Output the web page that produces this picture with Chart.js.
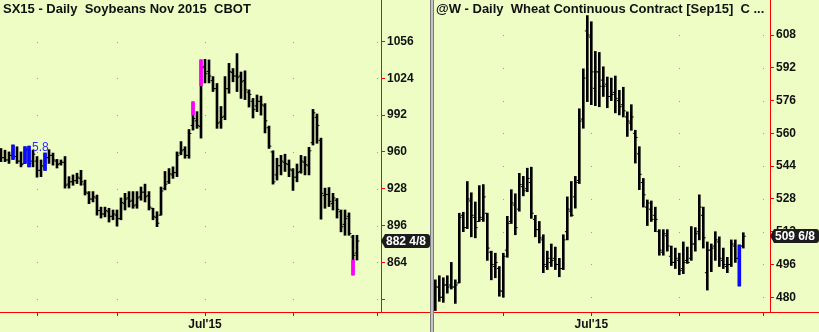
<!DOCTYPE html>
<html>
<head>
<meta charset="utf-8">
<title>Soybeans Nov 2015 / Wheat Sep15 - Daily</title>
<script src="https://cdn.jsdelivr.net/npm/chart.js@4.4.1/dist/chart.umd.min.js"></script>
<style>
  body { margin: 0; background: #eefdc4; font-family: "Liberation Sans", Arial, sans-serif; }
  #wrap { position: relative; width: 819px; height: 332px; overflow: hidden; background: #eefdc4; }
  .panel { position: absolute; top: 0; height: 332px; }
  #soyPanel { left: 0; width: 430px; }
  #wheatPanel { left: 434px; width: 385px; }
  .divider { position: absolute; left: 430px; top: 0; width: 2px; height: 332px; background: #c4c4c4; border-left: 1px solid #7a7a7a; border-right: 1px solid #7a7a7a; }
  .title { position: absolute; top: 1px; font-size: 13px; font-weight: bold; color: #111; white-space: pre; line-height: 16px; }
  .note { position: absolute; left: 32px; top: 141px; font-size: 12px; line-height: 13px; color: #2b2bff; }
</style>
</head>
<body>
<div id="wrap">
  <div class="panel" id="soyPanel"><canvas id="soyChart" width="430" height="332"></canvas></div>
  <div class="divider"></div>
  <div class="panel" id="wheatPanel"><canvas id="wheatChart" width="385" height="332"></canvas></div>
  <div class="title" style="left:3px">SX15 - Daily  Soybeans Nov 2015  CBOT</div>
  <div class="title" style="left:436px">@W - Daily  Wheat Continuous Contract [Sep15]  C ...</div>
  <div class="note">5.8</div>
</div>

<script>
// ---- Soybeans Nov 2015 (daily, 20 Apr - 25 Aug 2015) ----
const soyOpen = [958, 955, 953, 957, 956, 952, 950, 962, 952, 952,
  944, 947, 955, 957, 952, 950, 951, 932, 934, 935,
  937, 932, 924, 919, 920, 909, 906, 908, 904, 905,
  902, 915, 920, 918, 914, 921, 925, 922, 911, 903,
  905, 928, 934, 940, 942, 959, 962, 957, 983, 987,
  982, 1034, 1030, 1022, 1015, 986, 991, 1015, 1029, 1026,
  1026, 1022, 1012, 1004, 1000, 1004, 1000, 981, 960, 940,
  948, 951, 949, 944, 938, 943, 951, 948, 968, 990,
  970, 922, 923, 915, 918, 908, 897, 904, 886, 872];
const soyHigh = [963, 961.5, 960, 966, 964.5, 960, 964.5, 965, 961.5, 956,
  953, 959, 962, 959, 953.5, 953, 956, 938.5, 940, 941.5,
  944, 935.5, 925.5, 925.5, 922.5, 912, 912, 911, 909.5, 909.5,
  920, 924, 925.5, 925.5, 925.5, 929.5, 932, 925.5, 911, 908,
  929.5, 943, 945.5, 947, 960, 969, 964.5, 979.5, 1003.5, 995,
  1040, 1040.5, 1040, 1025.5, 1019.5, 999.5, 1025.5, 1037, 1032.5, 1045.5,
  1029.5, 1030.5, 1014, 1006.5, 1009.5, 1008.5, 1002, 982.5, 961, 954.5,
  957, 958, 953, 945.5, 949.5, 957, 956, 964, 997, 993,
  972, 928.5, 929, 924, 919.5, 909.5, 909.5, 907, 887.5, 887.5];
const soyLow = [951.5, 951.5, 950, 953.5, 950, 947, 950, 947, 947, 938,
  938.5, 944, 950, 948.5, 946, 948.5, 928.5, 928.5, 931, 932.5,
  931, 922.5, 915, 916.5, 905, 902.5, 903.5, 899, 901, 895.5,
  901, 909.5, 912, 911, 911, 918, 916.5, 909.5, 901, 895,
  905, 927, 932.5, 937, 938.5, 957.5, 954.5, 954.5, 979, 980.5,
  972, 1020, 1020, 1012.5, 980.5, 980.5, 988, 1011, 1021, 1012.5,
  1006.5, 1005.5, 999, 989.5, 995, 992, 976.5, 963, 932, 935.5,
  940, 943, 938.5, 926.5, 934, 941.5, 940, 940, 966, 967.5,
  901.5, 911, 912.5, 909.5, 902.5, 890.5, 887.5, 887.5, 853, 866];
const soyClose = [955, 953, 957, 956, 952, 949, 962, 950, 958, 944,
  948, 955, 957, 953, 949, 951, 931, 934, 935, 938,
  934, 925, 919, 921, 909, 906, 909, 904, 906, 902,
  916, 919, 917, 913, 920, 925, 921, 912, 904, 898,
  926, 932, 941, 942, 957, 961, 957, 976, 989, 983,
  1033, 1028, 1026, 1015, 985, 990, 1015, 1030, 1026, 1025,
  1021, 1014, 1010, 997, 1004, 1001, 987, 965, 934, 948,
  952, 950, 945, 938, 942, 952, 949, 961, 994, 983,
  924, 923, 917, 920, 910, 895, 902, 889, 870, 882.5];
const soyBlueIdx = [3, 6, 7, 11];          // painted full-range bars
const soyPinkIdx = [48, 50, 88];           // painted partial bars
const soyPinkTop = [1003.5, 1040, 866];
const soyPinkBottom = [992, 1017.5, 853];
const soyYTicks = [832, 864, 896, 928, 960, 992, 1024, 1056];
const soyMonthIdx = [9, 29, 51, 73, 94];   // May, Jun, Jul, Aug, Sep
const soyMonthLabels = ["", "", "Jul'15", "", ""];
const soyLastLabel = "882 4/8";

// ---- Wheat continuous [Sep15] (daily, 6 May - 25 Aug 2015) ----
const wheatOpen = [480, 485, 480, 486, 486, 485, 487, 520, 514, 527,
  519, 517, 518, 521, 502, 495, 494, 483, 503, 517,
  525, 523, 534, 533, 536, 518, 513, 508, 495, 497,
  499, 496, 494, 512, 522, 529, 537, 567, 610, 607,
  582, 590, 586, 584, 578, 580, 576, 574, 568, 565,
  560, 550, 536, 524, 523, 520, 512, 502, 510, 500,
  497, 498, 494, 498, 499, 506, 512, 520, 492, 503,
  505, 507, 498, 495, 496, 505, 499, 505];
const wheatHigh = [488.5, 490.5, 489.5, 490.5, 497, 488.5, 521, 521.5, 536.5, 531,
  526.5, 534.5, 535, 521, 502.5, 501.5, 495, 501.5, 519.5, 532.5,
  530.5, 540.5, 539, 543, 543.5, 520, 517, 510.5, 502.5, 506,
  504.5, 499, 510.5, 529, 536.5, 539, 572, 591.5, 617.5, 614.5,
  600, 599.5, 592.5, 587.5, 587, 588, 581, 582.5, 570.5, 574,
  561.5, 553.5, 538, 527.5, 527, 524, 513, 513, 513, 505,
  504, 501.5, 507, 504.5, 514.5, 514, 530, 524, 507, 506,
  512, 509.5, 504, 499.5, 508, 508, 505.5, 511.5];
const wheatLow = [473.5, 478, 477.5, 482, 484, 477, 487, 512, 513.5, 509.5,
  509, 517, 517, 498, 488.5, 489.5, 480.5, 480, 499.5, 516,
  510.5, 522, 529.5, 531.5, 518.5, 509.5, 506.5, 492, 493.5, 495,
  493.5, 490, 493.5, 508, 519.5, 523.5, 535.5, 562.5, 575.5, 574,
  573.5, 573, 578, 572.5, 576, 570, 569, 568, 558.5, 561.5,
  545.5, 532.5, 524, 515, 517, 512, 500.5, 500.5, 502.5, 495.5,
  494, 491, 491.5, 496.5, 498, 502.5, 508, 504, 483.5, 492.5,
  498, 495, 494, 492, 495, 497, 485.5, 504];
const wheatClose = [485, 480, 486, 485, 485, 486, 519, 514, 528, 520,
  514, 519, 529, 504, 496, 497, 483, 500, 516, 526,
  514, 535, 532, 538, 521, 513, 509, 496, 499, 498,
  496, 494, 508, 523, 520, 536, 566, 587, 608, 590,
  590, 583, 583, 578, 579, 577, 573, 571, 566, 568,
  558, 540, 530, 526, 518, 518, 503, 511, 505, 497,
  499, 493, 497, 497, 506, 511, 524, 509, 503, 504,
  508, 499, 496, 496, 506, 499, 505, 509.75];
const wheatBlueIdx = [76];
const wheatPinkIdx = [];
const wheatPinkTop = [];
const wheatPinkBottom = [];
const wheatYTicks = [480, 496, 512, 528, 544, 560, 576, 592, 608];
const wheatMonthIdx = [17, 39, 61, 82];    // Jun, Jul, Aug, Sep
const wheatMonthLabels = ["", "Jul'15", "", ""];
const wheatLastLabel = "509 6/8";

const FONT = "'Liberation Sans', Arial, sans-serif";
const RED = "#ff0000";

// Draws the dotted grid, the full-width bottom line and the last-price flag
const panelDecor = {
  id: "panelDecor",
  beforeDatasetsDraw(chart, args, opts) {
    const { ctx, scales } = chart;
    ctx.save();
    ctx.fillStyle = "#9a9a9a";
    opts.monthIdx.forEach((m) => {
      const px = Math.round(scales.x.getPixelForValue(m));
      opts.yTicks.forEach((t) => {
        const py = Math.round(scales.y.getPixelForValue(t));
        ctx.fillRect(px, py, 1, 1);
      });
    });
    ctx.restore();
  },
  afterDraw(chart, args, opts) {
    const { ctx, chartArea, scales, width } = chart;
    ctx.save();
    // bottom axis line runs under the price scale too
    ctx.strokeStyle = RED;
    ctx.lineWidth = 1;
    ctx.beginPath();
    ctx.moveTo(0, chartArea.bottom + 0.5);
    ctx.lineTo(width, chartArea.bottom + 0.5);
    ctx.stroke();

    // last price flag
    const y = Math.round(scales.y.getPixelForValue(opts.lastValue));
    const tip = chartArea.right;
    const h = 7;
    ctx.fillStyle = "#1c1c1c";
    ctx.beginPath();
    ctx.moveTo(tip, y);
    ctx.lineTo(tip + 4, y - h);
    ctx.lineTo(width - 3, y - h);
    ctx.quadraticCurveTo(width, y - h, width, y - h + 3);
    ctx.lineTo(width, y + h - 3);
    ctx.quadraticCurveTo(width, y + h, width - 3, y + h);
    ctx.lineTo(tip + 4, y + h);
    ctx.closePath();
    ctx.fill();
    ctx.fillStyle = "#ffffff";
    ctx.font = "bold 12px " + FONT;
    ctx.textBaseline = "middle";
    ctx.fillText(opts.lastLabel, tip + 5, y + 1);
    ctx.restore();
  }
};

function makeChart(canvasId, p) {
  const idx = p.high.map((_, i) => i);
  const rangeData = idx.map((i) => ({ x: i, y: [p.low[i], p.high[i]] }));
  const openData = idx.map((i) => ({ x: i - 0.3, y: p.open[i] }));
  const closeData = idx.map((i) => ({ x: i + 0.3, y: p.close[i] }));
  const blueData = p.blueIdx.map((i) => ({ x: i, y: [p.low[i], p.high[i]] }));
  const pinkData = p.pinkIdx.map((i, k) => ({ x: i, y: [p.pinkBottom[k], p.pinkTop[k]] }));

  const tickStyle = { type: "scatter", pointStyle: "line", pointRadius: 1.2, pointBorderWidth: 1,
    borderWidth: 0, borderColor: "#000", backgroundColor: "#000", order: 1 };

  return new Chart(document.getElementById(canvasId), {
    type: "bar",
    data: {
      datasets: [
        { data: pinkData, backgroundColor: "#ff00ff", barThickness: 3, grouped: false, order: 0 },
        { data: blueData, backgroundColor: "#0a0aff", barThickness: 3, grouped: false, order: 0 },
        { ...tickStyle, data: openData },
        { ...tickStyle, data: closeData },
        { data: rangeData, backgroundColor: "#000", barThickness: 2, grouped: false, order: 2 }
      ]
    },
    options: {
      responsive: false,
      animation: false,
      events: [],
      layout: { padding: 0, autoPadding: false },
      plugins: {
        legend: { display: false },
        tooltip: { enabled: false },
        panelDecor: { monthIdx: p.monthIdx, yTicks: p.yTicks, lastValue: p.close[p.close.length - 1], lastLabel: p.lastLabel }
      },
      scales: {
        x: {
          type: "linear", min: p.xMin, max: p.xMax, offset: false,
          afterBuildTicks: (s) => { s.ticks = p.monthIdx.map((v) => ({ value: v })); },
          afterFit: (s) => { s.height = 20; s.paddingLeft = 0; s.paddingRight = 0; },
          ticks: {
            autoSkip: false, maxRotation: 0, padding: 1, color: "#111",
            font: { family: FONT, size: 12, weight: "bold" },
            callback: (v) => p.monthLabels[p.monthIdx.indexOf(v)] || ""
          },
          grid: { offset: false, drawOnChartArea: false, tickLength: 4, color: "#444" },
          border: { color: RED }
        },
        y: {
          position: "right", min: p.yMin, max: p.yMax,
          afterBuildTicks: (s) => { s.ticks = p.yTicks.map((v) => ({ value: v })); },
          afterFit: (s) => { s.width = 49; s.paddingTop = 0; s.paddingBottom = 0; },
          ticks: {
            padding: 2, color: "#111",
            font: { family: FONT, size: 12, weight: "bold" },
            callback: (v) => (p.hiddenTicks.includes(v) ? "" : String(v))
          },
          grid: { drawOnChartArea: false, tickLength: 4, color: RED },
          border: { color: RED }
        }
      }
    },
    plugins: [panelDecor]
  });
}

makeChart("soyChart", {
  open: soyOpen, high: soyHigh, low: soyLow, close: soyClose,
  blueIdx: soyBlueIdx, pinkIdx: soyPinkIdx, pinkTop: soyPinkTop, pinkBottom: soyPinkBottom,
  yTicks: soyYTicks, hiddenTicks: [832], monthIdx: soyMonthIdx, monthLabels: soyMonthLabels,
  lastLabel: soyLastLabel, xMin: -0.25, xMax: 95, yMin: 820.8, yMax: 1092.1
});

makeChart("wheatChart", {
  open: wheatOpen, high: wheatHigh, low: wheatLow, close: wheatClose,
  blueIdx: wheatBlueIdx, pinkIdx: wheatPinkIdx, pinkTop: wheatPinkTop, pinkBottom: wheatPinkBottom,
  yTicks: wheatYTicks, hiddenTicks: [], monthIdx: wheatMonthIdx, monthLabels: wheatMonthLabels,
  lastLabel: wheatLastLabel, xMin: -0.325, xMax: 83.675, yMin: 472.8, yMax: 625.1
});
</script>
</body>
</html>
